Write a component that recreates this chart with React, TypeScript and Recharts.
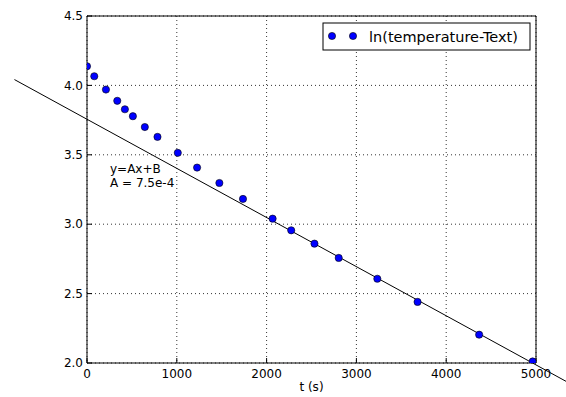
import {
  ComposedChart,
  Scatter,
  XAxis,
  YAxis,
  CartesianGrid,
  ReferenceLine,
  ReferenceArea,
  Customized,
} from 'recharts';

const times = [0, 81, 211, 337, 422, 511, 644, 785, 1011, 1226, 1474, 1737, 2067, 2274, 2533, 2803, 3233, 3681, 4367, 4963];
const logTemps = [4.138, 4.066, 3.97, 3.889, 3.828, 3.778, 3.7, 3.629, 3.514, 3.408, 3.297, 3.182, 3.04, 2.956, 2.86, 2.757, 2.607, 2.44, 2.204, 2.011];
const xTicks = [0, 1000, 2000, 3000, 4000, 5000];
const yTicks = [2.0, 2.5, 3.0, 3.5, 4.0, 4.5];
const fitLine = [
  { x: -808, y: 4.042 },
  { x: 5337, y: 1.867 },
];
const seriesName = 'ln(temperature-Text)';

const points = times.map((t, i) => ({ t, v: logTemps[i] }));

const font = 'DejaVu Sans, sans-serif';

const Dot = (props: any) => (
  <circle cx={props.cx} cy={props.cy} r={3.6} fill="#0000ff" stroke="#000" strokeWidth={0.6} />
);

// legend box and the fit annotation, drawn in svg so they take no layout space
const Extras = () => (
  <g fontFamily={font} fill="#000">
    <rect x={323} y={23} width={207} height={27} fill="#fff" stroke="#000" strokeWidth={1} />
    <circle cx={332} cy={36} r={3.6} fill="#0000ff" stroke="#000" strokeWidth={0.6} />
    <circle cx={353} cy={36} r={3.6} fill="#0000ff" stroke="#000" strokeWidth={0.6} />
    <text x={369} y={41.5} fontSize={14.5}>{seriesName}</text>
    <text x={110} y={173} fontSize={12}>y=Ax+B</text>
    <text x={110} y={187} fontSize={12}>A = 7.5e-4</text>
  </g>
);

export default function App() {
  return (
    <div style={{ position: 'absolute', left: 0, top: 0, background: '#fff' }}>
      <ComposedChart
        width={566}
        height={397}
        data={points}
        margin={{ top: 16, right: 30, left: 0, bottom: 0 }}
        style={{ fontFamily: font }}
      >
        <CartesianGrid stroke="#000" strokeDasharray="1 3" strokeWidth={0.8} />
        <XAxis
          dataKey="t"
          type="number"
          domain={[0, 5000]}
          ticks={xTicks}
          height={34}
          tickSize={-5}
          tickMargin={11}
          axisLine={false}
          tickLine={{ stroke: '#000' }}
          tick={{ fill: '#000', fontSize: 12 }}
          allowDataOverflow
          label={{ value: 't (s)', position: 'insideBottom', offset: 6, fill: '#000', fontSize: 12 }}
        />
        <XAxis
          xAxisId="top"
          orientation="top"
          type="number"
          domain={[0, 5000]}
          ticks={xTicks}
          height={0}
          tickSize={-5}
          axisLine={false}
          tickLine={{ stroke: '#000' }}
          tick={false}
        />
        <YAxis
          dataKey="v"
          type="number"
          domain={[2, 4.5]}
          ticks={yTicks}
          width={87}
          tickSize={-5}
          tickMargin={9}
          axisLine={false}
          tickLine={{ stroke: '#000' }}
          tick={{ fill: '#000', fontSize: 12 }}
          tickFormatter={(v: number) => v.toFixed(1)}
          allowDataOverflow
        />
        <YAxis
          yAxisId="right"
          orientation="right"
          type="number"
          domain={[2, 4.5]}
          ticks={yTicks}
          width={0}
          tickSize={-5}
          axisLine={false}
          tickLine={{ stroke: '#000' }}
          tick={false}
        />
        <ReferenceArea x1={0} x2={5000} y1={2} y2={4.5} fill="none" stroke="#000" strokeWidth={1} ifOverflow="visible" />
        <ReferenceLine segment={fitLine} stroke="#000" strokeWidth={1} ifOverflow="visible" />
        <Scatter name={seriesName} dataKey="v" shape={Dot} isAnimationActive={false} />
        <Customized component={Extras} />
      </ComposedChart>
    </div>
  );
}
